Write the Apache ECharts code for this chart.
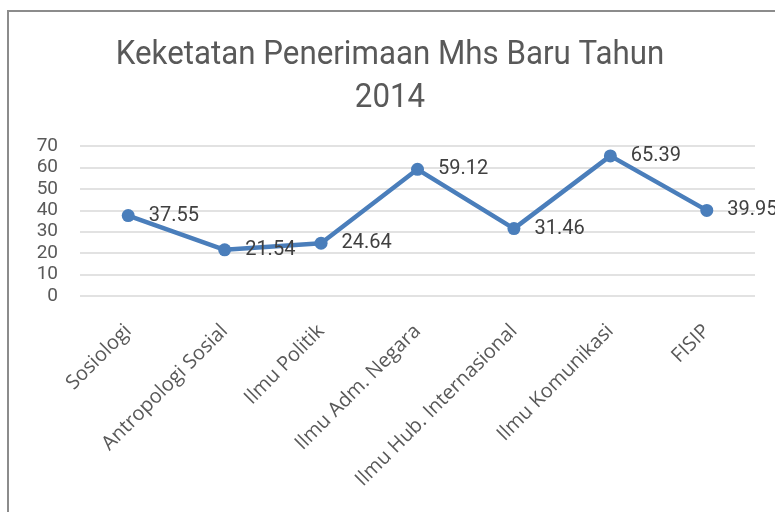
<!DOCTYPE html>
<html><head><meta charset="utf-8">
<script src="https://cdn.jsdelivr.net/npm/echarts@6/dist/echarts.min.js"></script>
<style>html,body{margin:0;padding:0;background:#fff}#c{width:775px;height:512px}</style>
</head><body><div id="c"></div>
<script>
const titleText = 'Keketatan Penerimaan Mhs Baru Tahun\n2014';
const categories = ['Sosiologi','Antropologi Sosial','Ilmu Politik','Ilmu Adm. Negara','Ilmu Hub. Internasional','Ilmu Komunikasi','FISIP'];
const values = [37.55, 21.54, 24.64, 59.12, 31.46, 65.39, 39.95];
const yTicks = {min: 0, max: 70, interval: 10};

const chart = echarts.init(document.getElementById('c'), null, {renderer: 'canvas'});
chart.setOption({
  animation: false,
  backgroundColor: '#fff',
  graphic: [
    {type: 'rect', shape: {x: 8, y: 11, width: 800, height: 600}, style: {fill: 'none', stroke: '#8c8c8c', lineWidth: 2}, silent: true},
    {type: 'text', x: 390, y: 34, scaleX: 0.92, silent: true,
     style: {text: titleText, font: 'normal 34px Roboto', fill: '#595959', align: 'center', verticalAlign: 'top', lineHeight: 43}}
  ],
  grid: {left: 80, right: 20, top: 146, bottom: 216},
  xAxis: {
    type: 'category', data: categories, boundaryGap: true,
    axisLine: {show: false}, axisTick: {show: false},
    axisLabel: {rotate: 45, fontFamily: 'Open Sans', fontSize: 20, color: '#595959', margin: 32, interval: 0}
  },
  yAxis: {
    type: 'value', min: yTicks.min, max: yTicks.max, interval: yTicks.interval,
    axisLine: {show: false}, axisTick: {show: false},
    axisLabel: {fontFamily: 'Roboto', fontSize: 19, color: '#595959', margin: 22},
    splitLine: {lineStyle: {color: '#d9d9d9', width: 1.5}}
  },
  series: [{
    type: 'line', data: values,
    symbol: 'circle', symbolSize: 13,
    lineStyle: {color: '#4a7ebb', width: 4.5},
    itemStyle: {color: '#4a7ebb'},
    label: {show: true, position: 'right', distance: 14, fontFamily: 'Roboto', fontSize: 20, color: '#404040', formatter: p => p.value.toFixed(2)}
  }]
});
</script></body></html>
